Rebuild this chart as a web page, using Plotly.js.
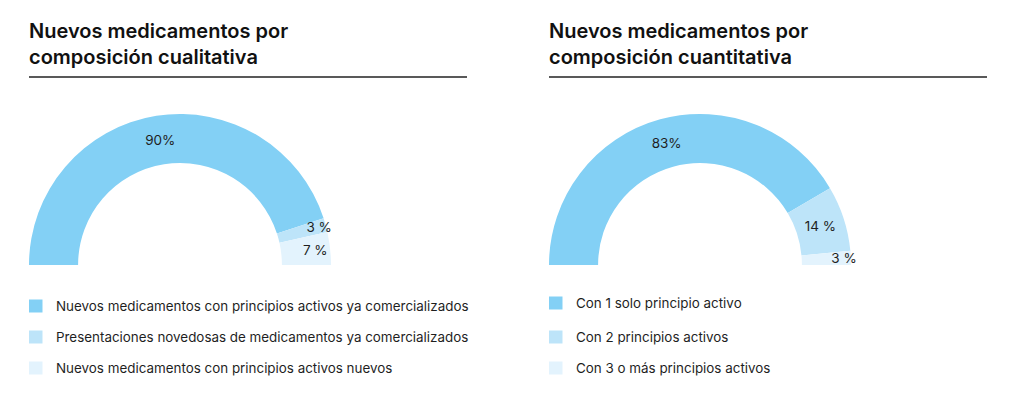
<!DOCTYPE html>
<html>
<head>
<meta charset="utf-8">
<script src="https://cdn.plot.ly/plotly-3.0.1.min.js"></script>
<style>
html,body{margin:0;padding:0;background:#fff;overflow:hidden;}
#chart{width:1024px;height:440px;}
</style>
</head>
<body>
<div id="chart"></div>
<script>
// ---- data ----
const leftTitle = 'Nuevos medicamentos por<br>composición cualitativa';
const leftCategories = [
  'Nuevos medicamentos con principios activos ya comercializados',
  'Presentaciones novedosas de medicamentos ya comercializados',
  'Nuevos medicamentos con principios activos nuevos'
];
const leftValues = [90, 3, 7];
const leftLabels = ['90%', '3 %', '7 %'];

const rightTitle = 'Nuevos medicamentos por<br>composición cuantitativa';
const rightCategories = [
  'Con 1 solo principio activo',
  'Con 2 principios activos',
  'Con 3 o más principios activos'
];
const rightValues = [83, 14, 3];
const rightLabels = ['83%', '14 %', '3 %'];

const colors = ['#83D0F5', '#BDE4F9', '#E3F3FD'];

// ---- layout helpers ----
const W = 1024, H = 440;
const px = x => x / W;
const py = y => 1 - y / H;
const FONT = 'Inter, Roboto, sans-serif';
const TEXT = '#1f1f1f';

function halfDonut(cats, vals, labels, x0, x1, cy, r) {
  const total = vals.reduce((a, b) => a + b, 0);
  return {
    type: 'pie',
    values: vals.concat([total]),
    labels: cats.concat(['\u200b']),
    text: labels.concat(['']),
    textinfo: 'text',
    textposition: 'inside',
    insidetextorientation: 'horizontal',
    insidetextfont: {family: FONT, size: 13.5, color: TEXT},
    marker: {colors: colors.concat(['rgba(0,0,0,0)']), line: {width: 0}},
    sort: false,
    direction: 'clockwise',
    rotation: -90,
    hole: 0.675,
    hoverinfo: 'skip',
    showlegend: false,
    domain: {x: [px(x0), px(x1)], y: [py(cy + r), py(cy - r)]}
  };
}

const data = [
  halfDonut(leftCategories, leftValues, leftLabels, 29, 331, 265, 151),
  halfDonut(rightCategories, rightValues, rightLabels, 549, 851, 265, 151)
];

const annotations = [];
const shapes = [];

function panel(title, cats, xLeft, xRight, rowYs) {
  annotations.push({
    xref: 'paper', yref: 'paper', x: px(xLeft - 2), y: py(17),
    xanchor: 'left', yanchor: 'top', align: 'left', showarrow: false,
    text: title, font: {family: FONT, size: 20, color: '#111', weight: 600}
  });
  shapes.push({
    type: 'line', xref: 'paper', yref: 'paper',
    x0: px(xLeft), x1: px(xRight), y0: py(77), y1: py(77),
    line: {color: '#222', width: 1.5}
  });
  cats.forEach((c, i) => {
    const y = rowYs[i];
    shapes.push({
      type: 'rect', xref: 'paper', yref: 'paper',
      x0: px(xLeft), x1: px(xLeft + 13.5), y0: py(y + 6.5), y1: py(y - 6.5),
      fillcolor: colors[i], line: {width: 0}
    });
    annotations.push({
      xref: 'paper', yref: 'paper', x: px(xLeft + 25), y: py(y),
      xanchor: 'left', yanchor: 'middle', showarrow: false,
      text: c, font: {family: FONT, size: 13.4, color: TEXT}
    });
  });
}

panel(leftTitle, leftCategories, 29, 467, [306, 337, 368]);
panel(rightTitle, rightCategories, 549, 987, [303, 337, 368]);

const layout = {
  width: W, height: H,
  margin: {l: 0, r: 0, t: 0, b: 0},
  paper_bgcolor: '#fff',
  plot_bgcolor: '#fff',
  uniformtext: {mode: 'show', minsize: 13.5},
  annotations: annotations,
  shapes: shapes
};

Plotly.newPlot('chart', data, layout, {displayModeBar: false, staticPlot: true});
</script>
</body>
</html>
